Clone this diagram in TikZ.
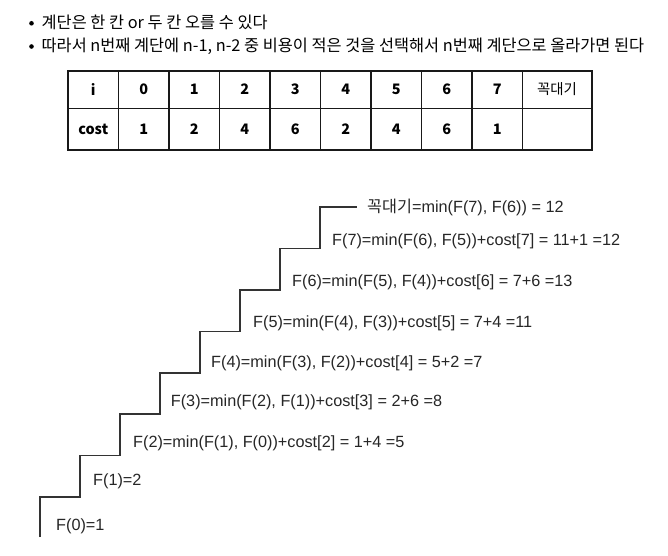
\documentclass[tikz,border=0pt]{standalone}
\usepackage{fontspec}
\setmainfont{Liberation Sans}
\newfontfamily\kr{Noto Sans CJK KR}
\begin{document}
\begin{tikzpicture}[x=1bp,y=-1bp,
  stair/.style={draw=black!80, line width=1.6bp},
  gridline/.style={draw=black!90, line width=1.6bp},
  ftext/.style={anchor=base west, inner sep=0pt, font=\fontsize{16.3}{19}\selectfont, text=black!85},
  htext/.style={anchor=base west, inner sep=0pt, font=\kr\fontsize{16.4}{19}\selectfont},
  bullet/.style={circle, fill=black, inner sep=0pt, minimum size=4.6bp},
  cellb/.style={anchor=center, inner sep=0pt, font=\kr\bfseries\fontsize{14.5}{17}\selectfont},
  cellr/.style={anchor=center, inner sep=0pt, font=\kr\fontsize{14.5}{17}\selectfont}]
\useasboundingbox (0,0) rectangle (668,556);

% header
\node[bullet] (b1) at (31.5,23.3) {};
\node[bullet] (b2) at (31.5,46.5) {};
\node[htext] (l1) at (41.5,29) {계단은 한 칸 or 두 칸 오를 수 있다};
\node[htext] (l2) at (41.5,51.5) {따라서 n번째 계단에 n-1, n-2 중 비용이 적은 것을 선택해서 n번째 계단으로 올라가면 된다};

% table
\draw[gridline] (68,71) rectangle (592,150);
\draw[gridline] (68,108.5) -- (592,108.5);
\foreach \k in {1,...,9} \draw[gridline] (68+50.5*\k,71) -- (68+50.5*\k,150);
\node[cellb] (h0) at (93.25,89.5) {i};
\foreach \v [count=\k] in {0,1,2,3,4,5,6,7}
  \node[cellb] (h\k) at (93.25+50.5*\k,89.5) {\v};
\node[cellr] (h9) at (557,89.5) {꼭대기};
\node[cellb] (c0) at (93.25,129.5) {cost};
\foreach \v [count=\k] in {1,2,4,6,2,4,6,1}
  \node[cellb] (c\k) at (93.25+50.5*\k,129.5) {\v};

% staircase
\draw[stair] (40,537) -- (40,497)
  -- (80,497) -- (80,455.6)
  -- (120,455.6) -- (120,414.1)
  -- (160,414.1) -- (160,372.7)
  -- (200,372.7) -- (200,331.3)
  -- (240,331.3) -- (240,289.9)
  -- (280,289.9) -- (280,248.4)
  -- (320,248.4) -- (320,207)
  -- (357,207);

% labels
\node[ftext] (f0) at (56,530.5) {F(0)=1};
\node[ftext] (f1) at (93,485.5) {F(1)=2};
\node[ftext] (f2) at (133,447.5) {F(2)=min(F(1), F(0))+cost[2] = 1+4 =5};
\node[ftext] (f3) at (170.7,406.2) {F(3)=min(F(2), F(1))+cost[3] = 2+6 =8};
\node[ftext] (f4) at (211,367.2) {F(4)=min(F(3), F(2))+cost[4] = 5+2 =7};
\node[ftext] (f5) at (253,327.3) {F(5)=min(F(4), F(3))+cost[5] = 7+4 =11};
\node[ftext] (f6) at (292,286.5) {F(6)=min(F(5), F(4))+cost[6] = 7+6 =13};
\node[ftext] (f7) at (332,245.5) {F(7)=min(F(6), F(5))+cost[7] = 11+1 =12};
\node[ftext] (top) at (367,212.5) {{\kr 꼭대기}=min(F(7), F(6)) = 12};
\end{tikzpicture}
\end{document}
